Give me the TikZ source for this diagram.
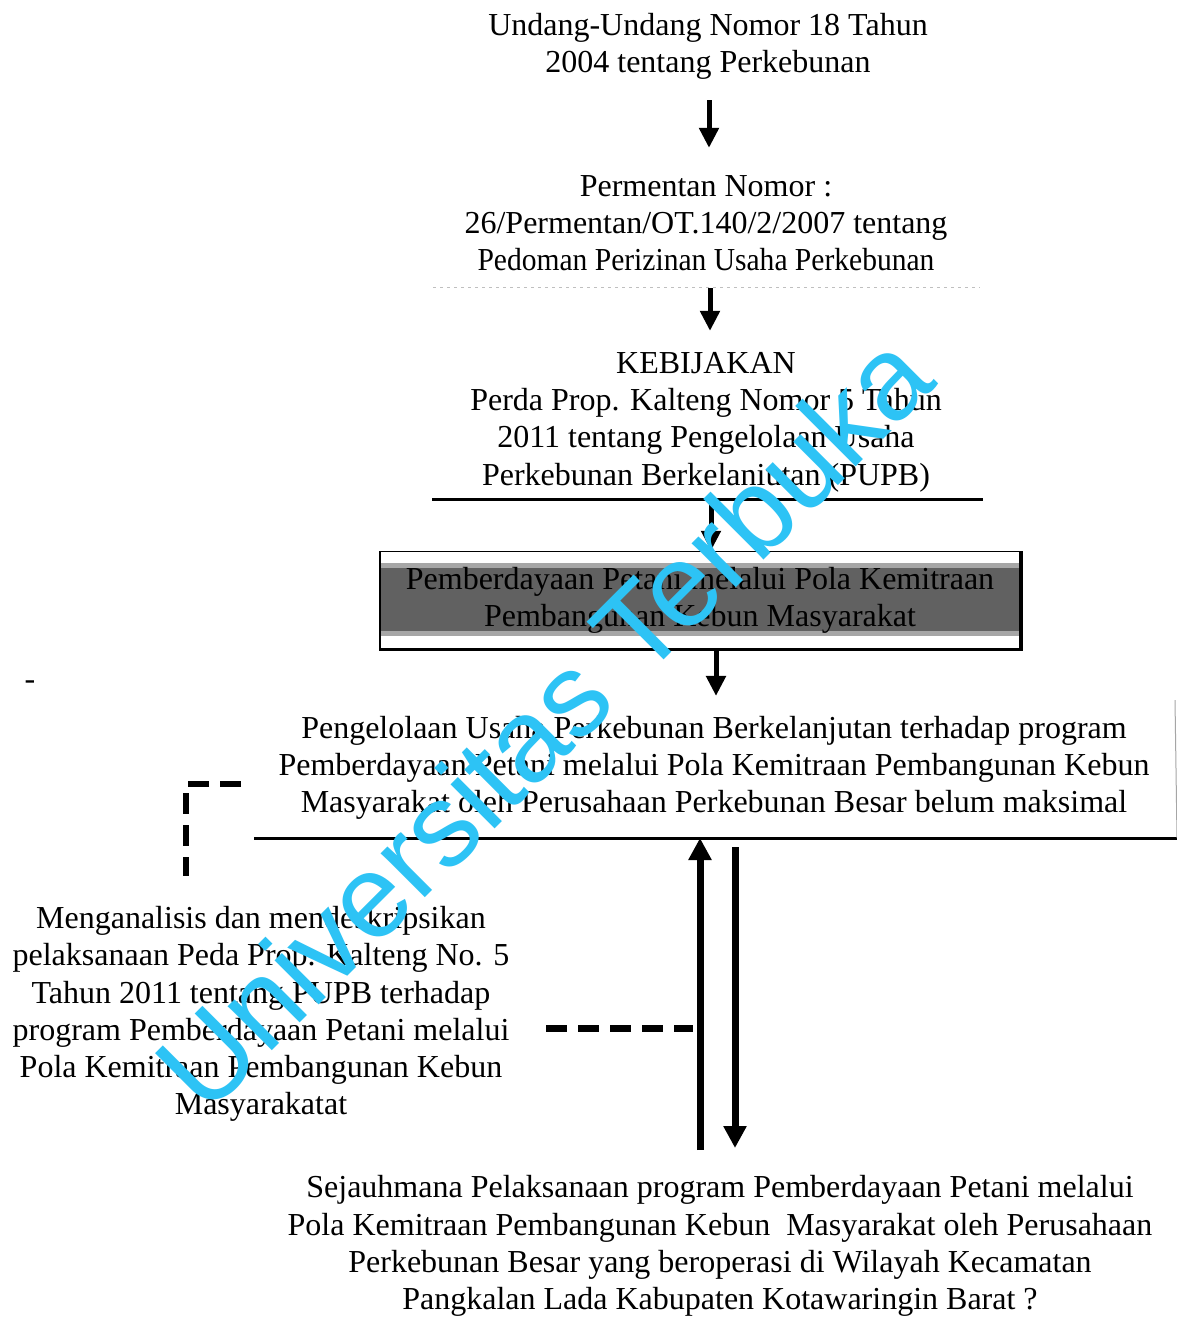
\documentclass[tikz,border=0pt]{standalone}
\usepackage{fontspec}
\setmainfont{Liberation Serif}
\newfontfamily\wmfont{Liberation Sans}
\usetikzlibrary{arrows.meta,backgrounds}
\definecolor{wmcyan}{RGB}{45,195,245}
\begin{document}
\begin{tikzpicture}[x=1pt,y=-1pt,
  txt/.style={align=center, font=\fontsize{32}{37.3}\selectfont, inner sep=0pt},
  arr/.style={line width=5pt, -{Triangle[length=20pt,width=19pt]}},
  bigarr/.style={line width=7pt, -{Triangle[length=22pt,width=22pt]}},
  dsh/.style={line width=6pt, dash pattern=on 21pt off 11pt},
  rulel/.style={line width=3pt},
  faint/.style={line width=1pt, black!25, dash pattern=on 3pt off 4pt}]
\begin{scope}[on background layer]
  \fill[white] (0,0) rectangle (1177,1339);
\end{scope}
\useasboundingbox (0,0) rectangle (1177,1339);

% nodes
\node[txt] (n1) at (708,46) {Undang-Undang Nomor 18 Tahun\\2004 tentang Perkebunan};
\node[txt] (n2) at (706,223) {Permentan Nomor :\\26/Permentan/OT.140/2/2007 tentang\\\scalebox{0.923}[1]{Pedoman Perizinan Usaha Perkebunan}};
\node[txt] (n3) at (706,422) {KEBIJAKAN\\Perda Prop. Kalteng Nomor 5 Tahun\\2011 tentang Pengelolaan Usaha\\Perkebunan Berkelaniutan (PUPB)};
\node[txt, draw, line width=1.5pt, minimum width=640pt, minimum height=97pt] (n4) at (700,600)
  {Pemberdayaan Petani melalui Pola Kemitraan\\Pembangunan Kebun Masyarakat};
\node[txt] (n5) at (714,768) {Pengelolaan Usaha Perkebunan Berkelanjutan terhadap program\\Pemberdayaan Petani melalui Pola Kemitraan Pembangunan Kebun\\Masyarakat oleh Perusahaan Perkebunan Besar belum maksimal};
\node[txt] (n6) at (261,1014) {Menganalisis dan mendeskripsikan\\pelaksanaan Peda Prop. Kalteng No. 5\\Tahun 2011 tentang PUPB terhadap\\program Pemberdayaan Petani melalui\\Pola Kemitraan Pembangunan Kebun\\Masyarakatat};
\node[txt] (n7) at (720,1246) {Sejauhmana Pelaksanaan program Pemberdayaan Petani melalui\\Pola Kemitraan Pembangunan Kebun\ \ Masyarakat oleh Perusahaan\\Perkebunan Besar yang beroperasi di Wilayah Kecamatan\\Pangkalan Lada Kabupaten Kotawaringin Barat ?};
\node[txt] (dashmark) at (30,685) {-};

% shaded band and shadow of box 4
\begin{scope}[on background layer]
  \fill[black!35] ([shift={(1,12)}]n4.north west) rectangle ([shift={(-1,-13)}]n4.south east);
  \fill[black!62] ([shift={(1,17)}]n4.north west) rectangle ([shift={(-1,-18)}]n4.south east);
\end{scope}
\draw[line width=3.5pt] (n4.south west) -- (n4.south east) -- (n4.north east);

% rules
\coordinate (r2a) at (433,287); \coordinate (r2b) at (980,287);
\draw[faint] (r2a) -- (r2b);
\coordinate (r3a) at (432,499); \coordinate (r3b) at (983,499);
\draw[rulel] (r3a) -- (r3b);
\coordinate (r5a) at (254,838); \coordinate (r5b) at (1177,838);
\draw[rulel] (r5a) -- (r5b);
\coordinate (r5c) at (1175,700);
\draw[line width=1pt, black!35] (r5c) -- (r5b);

% main arrows
\draw[arr] ([shift={(1,21)}]n1.south) -- ([shift={(3,-27)}]n2.north);
\draw[arr] ([shift={(4,17)}]n2.south) -- ([shift={(4,-21)}]n3.north);
\draw[arr] ([shift={(5,9)}]n3.south) -- ([shift={(11,0)}]n4.north);
\draw[arr] ([shift={(16,0)}]n4.south) -- ([shift={(2,-20)}]n5.north);

% feedback arrows
\coordinate (up) at (700,838);
\coordinate (upb) at (700,1150);
\coordinate (dnt) at (735,847);
\coordinate (dnb) at (735,1148);
\draw[bigarr] (upb) -- (up);
\draw[bigarr] (dnt) -- (dnb);

% dashed connectors
\coordinate (d1) at (241,784); \coordinate (d2) at (186,784); \coordinate (d3) at (186,876);
\draw[dsh] (d1) -- (d2) -- (d3);
\coordinate (d4) at (546,1028); \coordinate (d5) at (693,1028);
\draw[dsh, line width=7pt] (d4) -- (d5);

% watermark
\node[font=\wmfont\fontsize{118}{118}\selectfont, text=wmcyan, rotate=45, inner sep=0pt] (wm) at (543,721) {Universitas Terbuka};
\end{tikzpicture}
\end{document}
